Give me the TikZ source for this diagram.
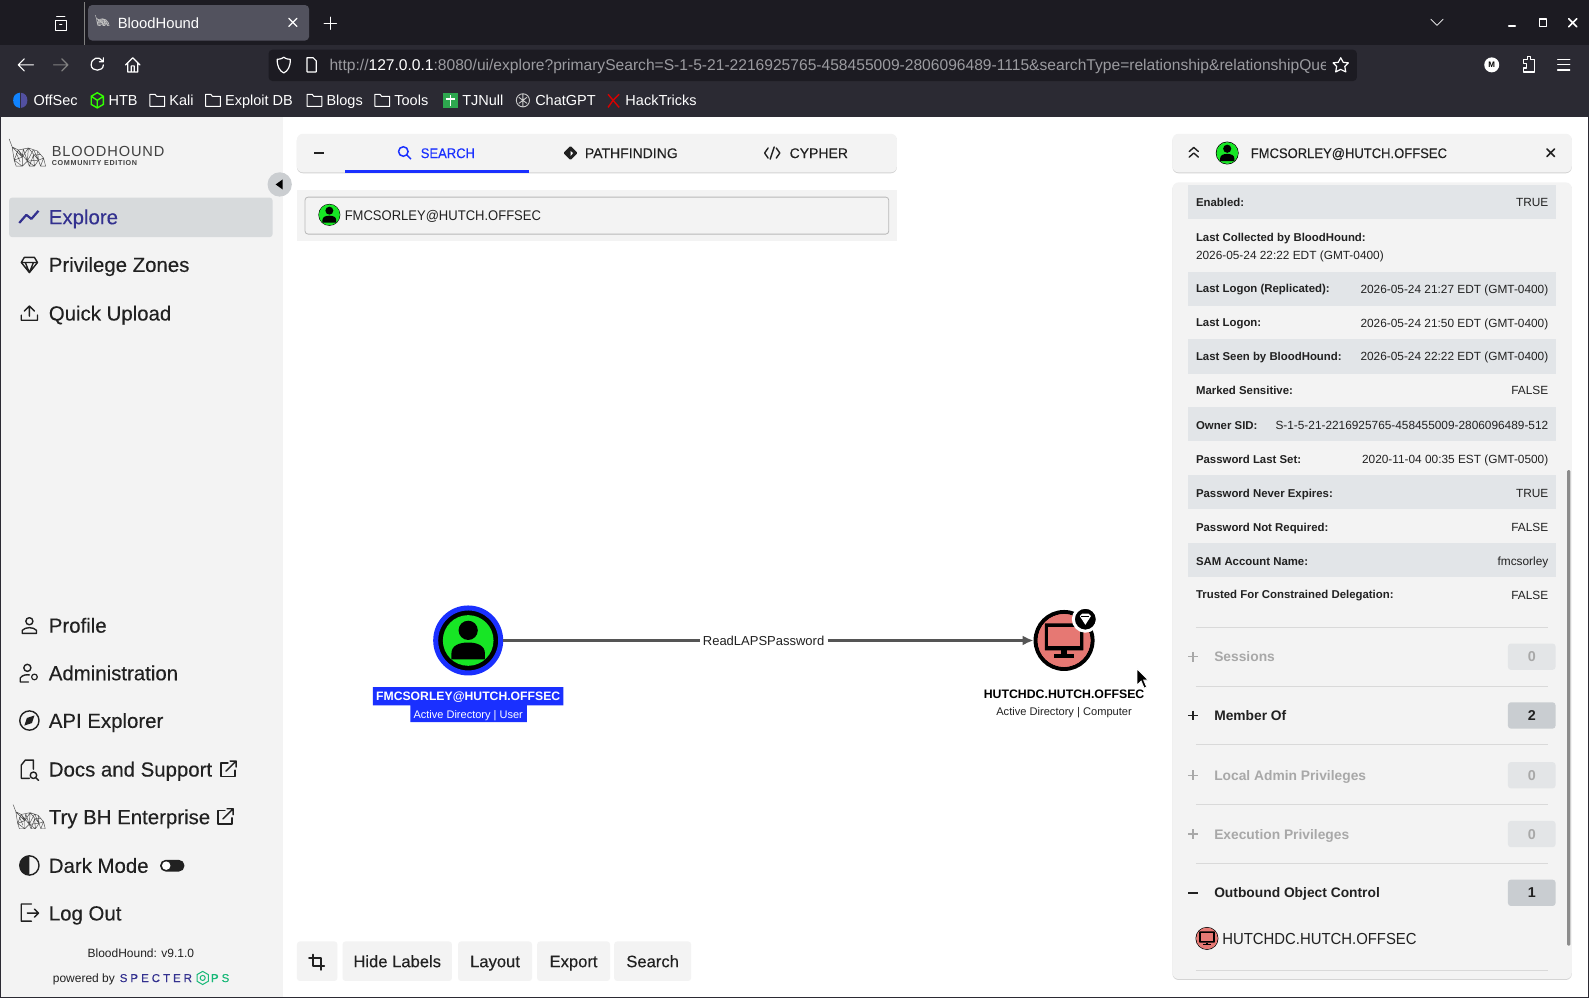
\documentclass[tikz,border=0pt]{standalone}
\usepackage{fontspec}
\setmainfont{Liberation Sans}
\newfontfamily\medfont[FakeBold=0.25]{Liberation Sans}
\newfontfamily\slimfont[FakeStretch=0.93]{Liberation Sans}
\newfontfamily\slimmedfont[FakeBold=0.25,FakeStretch=0.93]{Liberation Sans}
\usetikzlibrary{arrows.meta}

\definecolor{tabbar}{HTML}{1C1B22}
\definecolor{toolbar}{HTML}{2B2A33}
\definecolor{tabgray}{HTML}{52525E}
\definecolor{urlgray}{HTML}{9B9BA0}
\definecolor{panelgray}{HTML}{F3F3F3}
\definecolor{shadowgray}{HTML}{D4D4D4}
\definecolor{bandgray}{HTML}{E2E5E8}
\definecolor{rulegray}{HTML}{D9D9D9}
\definecolor{dimgray}{HTML}{A8A8A8}
\definecolor{badgeoff}{HTML}{E3E5E7}
\definecolor{badgeon}{HTML}{C9CDD1}
\definecolor{inkgray}{HTML}{212121}
\definecolor{hlblue}{HTML}{1A30FF}
\definecolor{navyblue}{HTML}{33318F}
\definecolor{usergreen}{HTML}{17E625}
\definecolor{compred}{HTML}{E67873}
\definecolor{edgegray}{HTML}{555555}
\definecolor{opsgreen}{HTML}{17B877}
\definecolor{tjgreen}{HTML}{2EA84F}

\tikzset{
    lab/.style={font=\fontsize{#1}{#1}\selectfont, anchor=base west, inner sep=0pt, yshift={-.36*#1pt}},
    panel/.style={fill=panelgray, rounded corners=6pt, preaction={fill=shadowgray, transform canvas={yshift=-1pt}}},
    chrome/.style={draw=white, line width=1.2pt, line cap=round, line join=round},
    ink/.style={draw=inkgray, line width=1.4pt, line cap=round, line join=round},
    edgeline/.style={draw=edgegray, line width=2.8pt},
    usericon/.pic={
        \fill[usergreen] (0,0) circle [radius=1];
        \fill[black] (0,-.4) circle [radius=.38];
        \fill[black] (-.66,.75) -- (-.66,.5) .. controls (-.66,.2) and (-.35,.08) .. (0,.08)
            .. controls (.35,.08) and (.66,.2) .. (.66,.5) -- (.66,.75) -- cycle;
    },
    compicon/.pic={
        \fill[compred] (0,0) circle [radius=1];
        \fill[black, rounded corners=.5pt] (-.73,-.65) rectangle (.73,.38);
        \fill[compred] (-.6,-.52) rectangle (.6,.22);
        \fill[black] (-.12,.38) rectangle (.12,.55);
        \fill[black] (-.38,.52) rectangle (.38,.65);
    },
    hound/.pic={
        \draw[pic actions, line width=.45pt, line join=round]
            (0,0) -- (3,8) -- (9,11) -- (19,9) -- (28,12) -- (34,19) -- (36,27) -- (31,27) -- (29,21)
            -- (25,27) -- (20,27) -- (18,22) -- (13,27) -- (7,27) -- (5,21) -- (3,8)
            (9,11) -- (5,21) -- (13,18) -- (9,11) -- (18,22) -- (19,9) -- (13,18) -- (13,27)
            (19,9) -- (29,21) -- (28,12) (18,22) -- (25,27) (29,21) -- (18,22) (34,19) -- (29,21)
            (3,8) -- (13,18) (5,21) -- (13,27) (14,10) -- (13,18) (14,10) -- (18,22)
            (24,10.5) -- (18,22) (24,10.5) -- (29,21) (31,15.5) -- (24,16) (24,16) -- (25,27)
            (7,14) -- (11,23) (31,27) -- (34,19) (20,27) -- (24,16);
    },
    extlink/.pic={
        \draw[ink] (0,-6) -- (-7,-6) -- (-7,7) -- (7,7) -- (7,1);
        \draw[ink] (-2,2) -- (8,-8) (2,-8) -- (8,-8) -- (8,-2);
    },
}

\begin{document}
\begin{tikzpicture}[x=1.0134pt, y=-1.0134pt]
    \useasboundingbox (0,0) rectangle (1568,984.8);
    \fill[white] (0,0) rectangle (1568,984.8);

    \fill[tabbar] (0,0) rectangle (1568,44);
    \fill[toolbar] (0,44) rectangle (1568,115);
    \fill[tabgray, rounded corners=4pt] (87,5) rectangle (305,40);
    \draw[gray, line width=.6pt] (83,2) -- (83,44);
    \draw[chrome] (54.5,20) rectangle (65.5,30) (56,16.5) -- (64,16.5) (59,24) -- (61,24);
    \draw[white] (94,15) pic[scale=.38, draw=white!75!black] {hound};
    \node[lab=14.8, text=white] (tabtitle) at (116,23) {BloodHound};
    \draw[chrome] (285,18) -- (293,26) (293,18) -- (285,26);
    \draw[chrome] (326,17) -- (326,29) (320,23) -- (332,23);
    \draw[chrome, line width=.8pt] (1412,19) -- (1418,25) -- (1424,19);
    \draw[chrome, line width=2pt] (1489,25.5) -- (1495,25.5);
    \draw[chrome, line width=1.6pt] (1519,19) rectangle (1526,26);
    \draw[chrome, line width=1.6pt] (1548,18.5) -- (1556,26.5) (1556,18.5) -- (1548,26.5);

    \draw[chrome] (33,64) -- (18,64) (24,58) -- (18,64) -- (24,70);
    \draw[chrome, draw=gray] (53,64) -- (67,64) (61,58) -- (67,64) -- (61,70);
    \draw[chrome] (101,60) .. controls (98,55) and (90,57) .. (90,64) .. controls (90,71) and (102,71) .. (102,64) (102,57) -- (102,61) -- (98,61);
    \draw[chrome] (124,64) -- (131,57) -- (138,64) (126,62) -- (126,71) -- (136,71) -- (136,62) (129.5,71) -- (129.5,65) -- (132.5,65) -- (132.5,71);
    \fill[tabbar, rounded corners=4pt] (265,49) rectangle (1339,80);
    \draw[chrome] (280,56.5) .. controls (277,58.5) and (275,58.5) .. (273.5,58.5) .. controls (273.5,66) and (276,70) .. (280,72)
        .. controls (284,70) and (286.5,66) .. (286.5,58.5) .. controls (285,58.5) and (283,58.5) .. (280,56.5);
    \draw[chrome] (303,57) -- (309,57) -- (312,60) -- (312,71) -- (303,71) -- cycle;
    \begin{scope}
        \clip (320,49) rectangle (1308,80);
        \node[lab=15.6, text=urlgray] (urltext) at (325,64) {http://{\color{white}127.0.0.1}:8080/ui/explore?primarySearch=S-1-5-21-2216925765-458455009-2806096489-1115\&searchType=relationship\&relationshipQue};
    \end{scope}
    \draw[chrome] (1323,57) -- (1325.5,61.5) -- (1330.5,62) -- (1327,65.5) -- (1328,71) -- (1323,68.5) -- (1318,71) -- (1319,65.5) -- (1315.5,62) -- (1320.5,61.5) -- cycle;
    \node[circle, fill=white, text=black, minimum size=15pt, inner sep=0pt, font=\fontsize{8}{8}\selectfont\bfseries] (profilebtn) at (1472,64) {M};
    \draw[chrome] (1503,59) -- (1507,59) -- (1507,56) -- (1510,56) -- (1510,59) -- (1514,59) -- (1514,71) -- (1503,71) -- (1503,67) -- (1506,67) -- (1506,63) -- (1503,63) -- cycle;
    \draw[chrome] (1537,59) -- (1549,59) (1537,64) -- (1549,64) (1537,69) -- (1549,69);

    \foreach \x/\name in {167/Kali, 222/Exploit DB, 322/Blogs, 389/Tools} {
        \draw[chrome, line width=1pt] (\x-19,93) -- (\x-14,93) -- (\x-12.5,95) -- (\x-4.5,95) -- (\x-4.5,105) -- (\x-19,105) -- cycle;
        \node[lab=14.5, text=white] (mark\x) at (\x,99) {\name};
    }
    \fill[hlblue!60!cyan] (19.5,91.5) .. controls (15,92) and (13,95) .. (13,99) .. controls (13,103) and (15,106) .. (19.5,106.5) -- cycle;
    \fill[navyblue!85!white] (20.5,91.5) .. controls (25,92) and (27,95) .. (27,99) .. controls (27,103) and (25,106) .. (20.5,106.5) -- cycle;
    \node[lab=14.5, text=white] (markoffsec) at (33,99) {OffSec};
    \draw[line width=1.4pt, draw=green!80!yellow] (96,91.5) -- (102,95) -- (102,103) -- (96,106.5) -- (90,103) -- (90,95) -- cycle (90,95) -- (96,99) -- (102,95) (96,99) -- (96,106.5);
    \node[lab=14.5, text=white] (markhtb) at (107,99) {HTB};
    \fill[tjgreen] (437,92) rectangle (452,107);
    \draw[white, line width=1.6pt] (444.5,94) -- (444.5,105) (440,97.5) -- (449,97.5);
    \node[lab=14.5, text=white] (marktjnull) at (456,99) {TJNull};
    \draw[white!80!black, line width=.9pt] (516,99) circle [radius=6.5] (512,96) -- (520,102) (520,96) -- (512,102) (516,93) -- (516,105);
    \node[lab=14.5, text=white] (markchatgpt) at (528,99) {ChatGPT};
    \draw[red!85!black, line width=1.4pt] (600,93) -- (605,99) -- (600,106) (611,93) -- (605,99) -- (611,106);
    \node[lab=14.5, text=white] (markhacktricks) at (617,99) {HackTricks};

    \fill[panelgray] (0,115) rectangle (279,985);
    \draw[black!75, line width=.7pt] (9,137) pic[scale=1, draw=black!70] {hound};
    \node[lab=14.6, text=black!75] (brandname) at (51,149.5) {\addfontfeatures{LetterSpace=6}BLOODHOUND};
    \node[lab=7.2, text=black!75] (brandsub) at (51,161) {\addfontfeatures{LetterSpace=9}\bfseries COMMUNITY EDITION};
    \fill[bandgray!90!black] (276,182) circle [radius=12];
    \fill[black] (272,182) -- (279,177) -- (279,187) -- cycle;
    \fill[bandgray!95!black, rounded corners=3pt] (9,195) rectangle (269,234);
    \draw[navyblue, line width=2.2pt, line join=round] (19,220) -- (26,212) -- (31,216) -- (38,208);
    \node[lab=20.4, text=navyblue] (navexplore) at (48,214) {\medfont Explore};
    \foreach \y/\name in {261/Privilege Zones, 309/Quick Upload, 617/Profile, 664/Administration, 711/API Explorer, 759/Docs and Support, 806/Try BH Enterprise, 854/Dark Mode, 901/Log Out} {
        \node[lab=20.4, text=inkgray] (nav\y) at (48,\y) {\medfont\name};
    }
    \draw[ink] (24,254) -- (34,254) -- (37,259) -- (29,269) -- (21,259) -- cycle (21,259) -- (37,259) (25,259) -- (29,269) -- (33,259);
    \draw[ink] (29,302) -- (29,312) (24,307) -- (29,302) -- (34,307) (21,311) -- (21,316) -- (37,316) -- (37,311);
    \draw[ink] (29,613) circle [radius=3.5] (22,625) -- (36,625) -- (36,622) .. controls (33,618.5) and (25,618.5) .. (22,622) -- cycle;
    \draw[ink] (27,659) circle [radius=3.5] (20,673) -- (28,673) (20,673) -- (20,669) .. controls (22,666) and (26,665.5) .. (29,666);
    \draw[ink, line width=1.2pt] (34,668) circle [radius=2.8];
    \draw[ink] (29,711) circle [radius=9.5];
    \fill[inkgray] (34,706) -- (31.5,713.5) -- (24,716) -- (26.5,708.5) -- cycle;
    \draw[ink] (21,755) -- (25,750) -- (33,750) -- (33,759) (29,768) -- (21,768) -- (21,755);
    \draw[ink] (33,765) circle [radius=3.2] (35.5,767.5) -- (38,770);
    \draw (225,759) pic {extlink};
    \draw (222,806) pic {extlink};
    \draw[black!70] (13,794) pic[scale=.88, draw=black!70] {hound};
    \draw[ink] (29,854) circle [radius=9.5];
    \fill[inkgray] (29,844.5) .. controls (23,844.5) and (19.5,849) .. (19.5,854) .. controls (19.5,859) and (23,863.5) .. (29,863.5) -- cycle;
    \fill[inkgray, rounded corners=5.5pt] (158,848.5) rectangle (182,860);
    \fill[white] (164,854.2) circle [radius=4.2];
    \draw[ink] (31,892) -- (21,892) -- (21,909) -- (31,909) (27,901) -- (38,901) (34,897) -- (38,901) -- (34,905);
    \node[lab=12, anchor=base, text=inkgray] (version) at (139,941) {BloodHound: v9.1.0};
    \node[lab=12, text=inkgray] (poweredby) at (52,965) {powered by};
    \node[lab=11.5, text=navyblue] (specter) at (118,965) {\medfont\addfontfeatures{LetterSpace=26}SPECTER};
    \draw[opsgreen, line width=1pt] (200,958.5) -- (205.5,961.7) -- (205.5,968.3) -- (200,971.5) -- (194.5,968.3) -- (194.5,961.7) -- cycle (200,965) circle [radius=2.5];
    \node[lab=11.5, text=opsgreen] (ops) at (208,965) {\medfont\addfontfeatures{LetterSpace=26}PS};

    \fill[panel] (293,132) rectangle (885,170);
    \fill[inkgray] (310,150) rectangle (320,151.5);
    \fill[hlblue] (340,168) rectangle (522,171);
    \draw[hlblue, line width=1.5pt] (398,149.5) circle [radius=4.7] (401.5,153) -- (405.5,157);
    \node[lab=14, text=hlblue] (tabsearch) at (415,151) {\slimmedfont SEARCH};
    \fill[inkgray, rounded corners=1pt] (563,144) -- (570,151) -- (563,158) -- (556,151) -- cycle;
    \fill[white] (563,149) -- (565.5,151) -- (563,154) -- cycle;
    \node[lab=14, text=inkgray] (tabpath) at (577,151) {\medfont PATHFINDING};
    \draw[ink] (758,146) -- (754.5,151) -- (758,156) (766,146) -- (769.5,151) -- (766,156) (764,145) -- (760,157);
    \node[lab=14, text=inkgray] (tabcypher) at (779,151) {\medfont CYPHER};

    \fill[panelgray] (293,187) rectangle (885,238);
    \draw[draw=black!28, fill=panelgray, rounded corners=3pt, line width=.8pt] (301,194.5) rectangle (877,231);
    \node[circle, draw=black, line width=.9pt, minimum size=21pt, inner sep=0pt] (searchicon) at (325,212) {};
    \draw (searchicon) pic[scale=10.3] {usericon};
    \node[lab=14, text=inkgray] (searchtext) at (340,212.5) {\slimfont FMCSORLEY@HUTCH.OFFSEC};

    \node[circle, draw=hlblue, fill=black, line width=5pt, minimum size=65pt, inner sep=0pt] (usernode) at (462,632) {};
    \draw (usernode) pic[scale=25] {usericon};
    \node[circle, draw=black, line width=4pt, fill=compred, minimum size=57pt, inner sep=0pt] (compnode) at (1050,632) {};
    \draw (compnode) pic[scale=26] {compicon};
    \node[circle, draw=white, fill=black, line width=3pt, minimum size=24pt, inner sep=0pt] (tiergem) at (1071,611) {};
    \fill[white] (1065.5,608) -- (1068,605.5) -- (1074,605.5) -- (1076.5,608) -- (1071,616.5) -- cycle;
    \draw[black, line width=.5pt] (1067,608.5) -- (1075,608.5);

    \node[lab=13, anchor=center, yshift={.36*13pt}, fill=white, inner xsep=3pt, inner ysep=1pt, text=inkgray] (edgelabel) at (753.5,632) {ReadLAPSPassword};
    \draw[edgeline] (usernode) -- (edgelabel);
    \draw[edgeline, -{Latex[length=11pt,width=10pt]}] (edgelabel) -- (compnode);

    \fill[hlblue] (368,678) rectangle (556,696) (405,696) rectangle (520,712.5);
    \node[lab=12.2, anchor=base, text=white] (userlabel) at (462,687) {\bfseries FMCSORLEY@HUTCH.OFFSEC};
    \node[lab=11, anchor=base, text=white] (usertype) at (462,705) {Active Directory | User};
    \node[lab=12.3, anchor=base, text=black] (complabel) at (1050,684.5) {\bfseries HUTCHDC.HUTCH.OFFSEC};
    \node[lab=11.1, anchor=base, text=inkgray] (comptype) at (1050,702) {Active Directory | Computer};

    \fill[draw=white, fill=black, line width=.8pt] (1122,660) -- (1122,676) -- (1126,672) -- (1129,679) -- (1131.5,678) -- (1128.5,671) -- (1133,671) -- cycle;

    \fill[panelgray, rounded corners=3pt] (293,929) rectangle (333,968);
    \draw[ink, line width=1.8pt] (309,942) -- (309,953) -- (320,953) (305,945) -- (317,945) -- (317,957);
    \foreach \xa/\xb/\name in {338/446/Hide Labels, 452/525/Layout, 530/602/Export, 606/682/Search} {
        \fill[panelgray, rounded corners=3pt] (\xa,929) rectangle (\xb,968);
        \node[lab=16.6, anchor=base, text=inkgray] (btn\xa) at ({(\xa+\xb)/2},948.5) {\medfont\name};
    }

    \fill[panel] (1157,132) rectangle (1551,170);
    \draw[ink] (1173.5,149.5) -- (1178,145.5) -- (1182.5,149.5) (1173.5,155) -- (1178,151) -- (1182.5,155);
    \node[circle, draw=black, line width=.9pt, minimum size=22pt, inner sep=0pt] (headicon) at (1211,151) {};
    \draw (headicon) pic[scale=10.6] {usericon};
    \node[lab=14, text=inkgray] (headtext) at (1234,151) {\slimmedfont FMCSORLEY@HUTCH.OFFSEC};
    \draw[ink, line width=1.6pt] (1526.5,147) -- (1534,154.5) (1534,147) -- (1526.5,154.5);

    \fill[panel] (1157,180) rectangle (1551,966);
    \foreach \y in {182.5, 268, 335, 402, 469, 536} {
        \fill[bandgray] (1172,\y) rectangle (1535,\y+33.6);
    }
    \foreach \y/\key/\val [count=\n] in {200/Enabled:/TRUE, 285/Last Logon (Replicated):/2026-05-24 21:27 EDT (GMT-0400), 318.5/Last Logon:/2026-05-24 21:50 EDT (GMT-0400), 352/Last Seen by BloodHound:/2026-05-24 22:22 EDT (GMT-0400), 385.5/Marked Sensitive:/FALSE, 419.5/Owner SID:/S-1-5-21-2216925765-458455009-2806096489-512, 453/Password Last Set:/2020-11-04 00:35 EST (GMT-0500), 486.5/Password Never Expires:/TRUE, 520/Password Not Required:/FALSE, 553.5/SAM Account Name:/fmcsorley, 587/Trusted For Constrained Delegation:/FALSE} {
        \node[lab=11.4, text=inkgray] (key\n) at (1180,\y) {\bfseries\key};
        \node[lab=11.85, anchor=base east, text=inkgray] (val\n) at (1528,\y) {\val};
    }
    \node[lab=11.4, text=inkgray] (keycollected) at (1180,234) {\bfseries Last Collected by BloodHound:};
    \node[lab=11.85, text=inkgray] (valcollected) at (1180,251.5) {2026-05-24 22:22 EDT (GMT-0400)};

    \foreach \y in {619, 677, 735, 794, 852, 958} {
        \draw[rulegray, line width=.8pt] (1180,\y) -- (1528,\y);
    }
    \foreach \y/\name/\num/\col/\badge in {648/Sessions/0/dimgray/badgeoff, 706/Member Of/2/inkgray/badgeon, 765/Local Admin Privileges/0/dimgray/badgeoff, 823/Execution Privileges/0/dimgray/badgeoff, 881/Outbound Object Control/1/inkgray/badgeon} {
        \node[lab=13.8, text=\col] (sect\y) at (1198,\y) {\bfseries\name};
        \fill[\badge, rounded corners=3pt] (1488,\y-13) rectangle (1535,\y+13);
        \node[lab=14.3, anchor=base, text=\col] (count\y) at (1511.5,\y) {\bfseries\num};
    }
    \foreach \y/\col in {648/dimgray, 706/inkgray, 765/dimgray, 823/dimgray} {
        \draw[\col, line width=1.4pt] (1172.5,\y) -- (1182,\y) (1177.2,\y-4.8) -- (1177.2,\y+4.8);
    }
    \draw[inkgray, line width=1.4pt] (1172.5,881) -- (1182,881);
    \node[circle, draw=black, line width=.9pt, minimum size=22pt, inner sep=0pt] (itemicon) at (1191,926) {};
    \draw (itemicon) pic[scale=10.6] {compicon};
    \node[lab=16, text=inkgray] (itemtext) at (1206,926) {\slimfont HUTCHDC.HUTCH.OFFSEC};
    \fill[black!45, rounded corners=1pt] (1546.5,464) rectangle (1549.5,933);

    \draw[toolbar, line width=1.4pt] (0,115) -- (0,984.8) -- (1568,984.8) -- (1568,115);
\end{tikzpicture}
\end{document}
